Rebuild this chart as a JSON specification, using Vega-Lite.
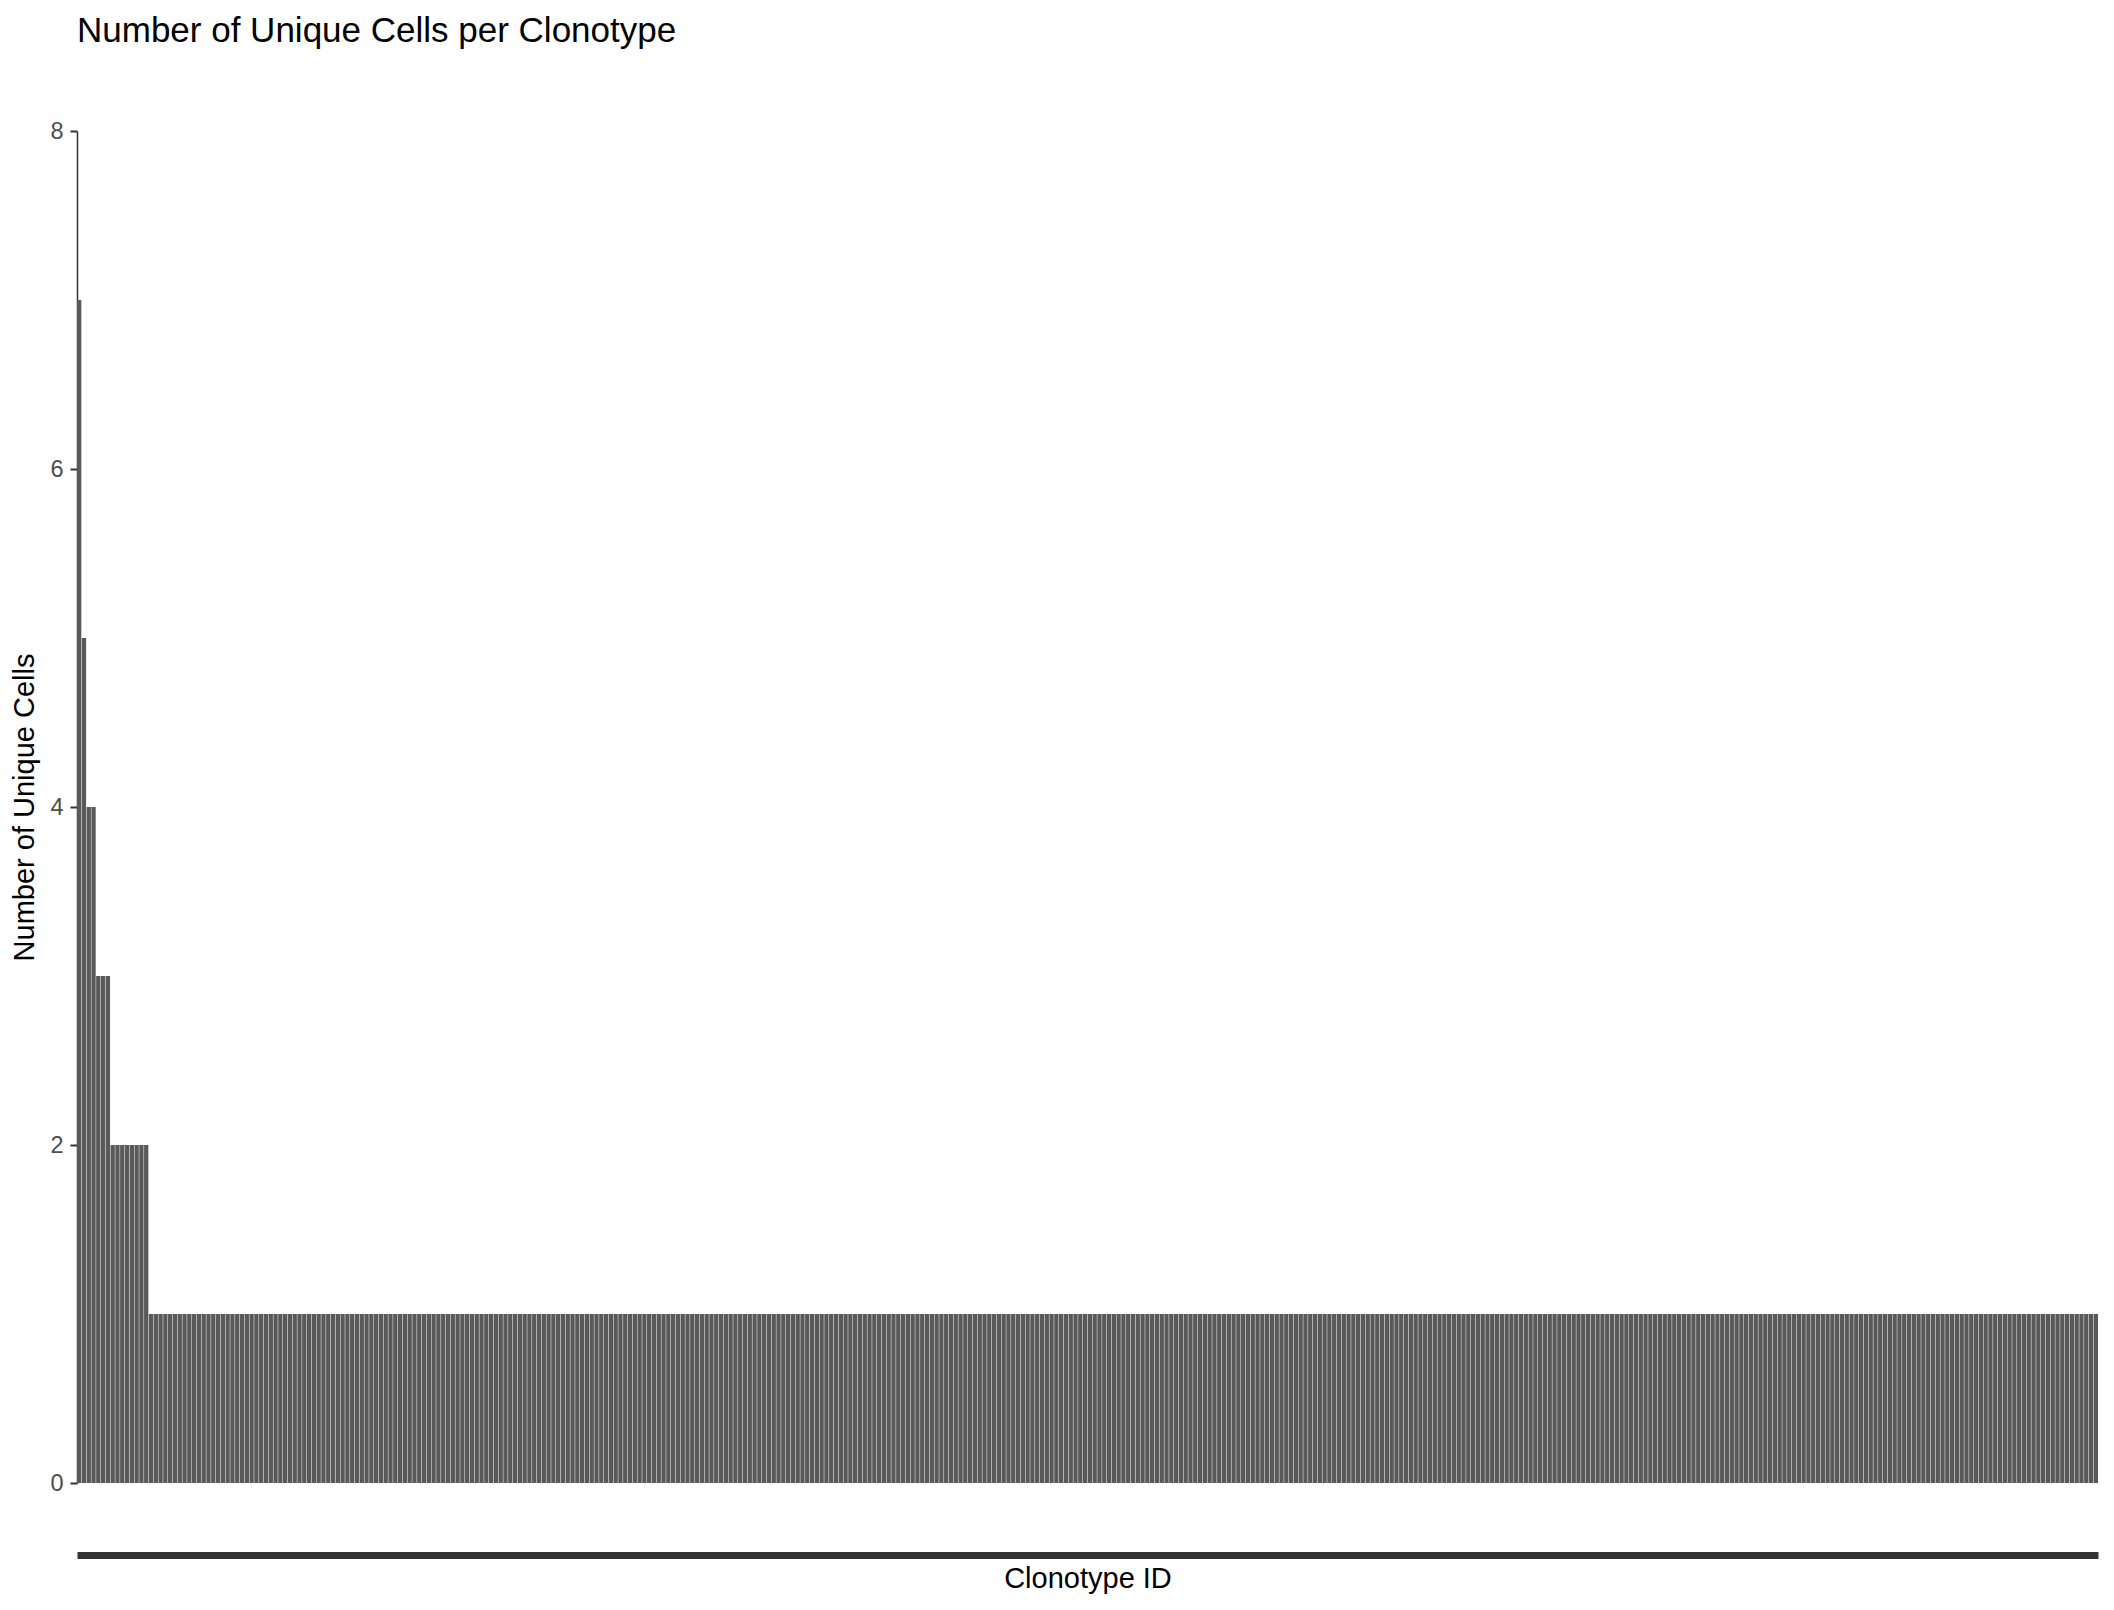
{
"$schema": "https://vega.github.io/schema/vega-lite/v6.json",
"width": 2021, "height": 1352,
"autosize": {"type": "none"},
"padding": {"left": 77, "top": 131, "right": 16, "bottom": 127},
"background": "white",
"title": {"text": "Number of Unique Cells per Clonotype", "anchor": "start", "frame": "group", "fontSize": 35, "font": "Liberation Sans", "fontWeight": "normal", "color": "black", "baseline": "alphabetic", "offset": 42},
"data": {"values": [
{"id":"c1","n":7},{"id":"c2","n":5},{"id":"c3","n":4},{"id":"c4","n":4},{"id":"c5","n":3},{"id":"c6","n":3},{"id":"c7","n":3},{"id":"c8","n":2},{"id":"c9","n":2},{"id":"c10","n":2},
{"id":"c11","n":2},{"id":"c12","n":2},{"id":"c13","n":2},{"id":"c14","n":2},{"id":"c15","n":2},{"id":"c16","n":1},{"id":"c17","n":1},{"id":"c18","n":1},{"id":"c19","n":1},{"id":"c20","n":1},
{"id":"c21","n":1},{"id":"c22","n":1},{"id":"c23","n":1},{"id":"c24","n":1},{"id":"c25","n":1},{"id":"c26","n":1},{"id":"c27","n":1},{"id":"c28","n":1},{"id":"c29","n":1},{"id":"c30","n":1},
{"id":"c31","n":1},{"id":"c32","n":1},{"id":"c33","n":1},{"id":"c34","n":1},{"id":"c35","n":1},{"id":"c36","n":1},{"id":"c37","n":1},{"id":"c38","n":1},{"id":"c39","n":1},{"id":"c40","n":1},
{"id":"c41","n":1},{"id":"c42","n":1},{"id":"c43","n":1},{"id":"c44","n":1},{"id":"c45","n":1},{"id":"c46","n":1},{"id":"c47","n":1},{"id":"c48","n":1},{"id":"c49","n":1},{"id":"c50","n":1},
{"id":"c51","n":1},{"id":"c52","n":1},{"id":"c53","n":1},{"id":"c54","n":1},{"id":"c55","n":1},{"id":"c56","n":1},{"id":"c57","n":1},{"id":"c58","n":1},{"id":"c59","n":1},{"id":"c60","n":1},
{"id":"c61","n":1},{"id":"c62","n":1},{"id":"c63","n":1},{"id":"c64","n":1},{"id":"c65","n":1},{"id":"c66","n":1},{"id":"c67","n":1},{"id":"c68","n":1},{"id":"c69","n":1},{"id":"c70","n":1},
{"id":"c71","n":1},{"id":"c72","n":1},{"id":"c73","n":1},{"id":"c74","n":1},{"id":"c75","n":1},{"id":"c76","n":1},{"id":"c77","n":1},{"id":"c78","n":1},{"id":"c79","n":1},{"id":"c80","n":1},
{"id":"c81","n":1},{"id":"c82","n":1},{"id":"c83","n":1},{"id":"c84","n":1},{"id":"c85","n":1},{"id":"c86","n":1},{"id":"c87","n":1},{"id":"c88","n":1},{"id":"c89","n":1},{"id":"c90","n":1},
{"id":"c91","n":1},{"id":"c92","n":1},{"id":"c93","n":1},{"id":"c94","n":1},{"id":"c95","n":1},{"id":"c96","n":1},{"id":"c97","n":1},{"id":"c98","n":1},{"id":"c99","n":1},{"id":"c100","n":1},
{"id":"c101","n":1},{"id":"c102","n":1},{"id":"c103","n":1},{"id":"c104","n":1},{"id":"c105","n":1},{"id":"c106","n":1},{"id":"c107","n":1},{"id":"c108","n":1},{"id":"c109","n":1},{"id":"c110","n":1},
{"id":"c111","n":1},{"id":"c112","n":1},{"id":"c113","n":1},{"id":"c114","n":1},{"id":"c115","n":1},{"id":"c116","n":1},{"id":"c117","n":1},{"id":"c118","n":1},{"id":"c119","n":1},{"id":"c120","n":1},
{"id":"c121","n":1},{"id":"c122","n":1},{"id":"c123","n":1},{"id":"c124","n":1},{"id":"c125","n":1},{"id":"c126","n":1},{"id":"c127","n":1},{"id":"c128","n":1},{"id":"c129","n":1},{"id":"c130","n":1},
{"id":"c131","n":1},{"id":"c132","n":1},{"id":"c133","n":1},{"id":"c134","n":1},{"id":"c135","n":1},{"id":"c136","n":1},{"id":"c137","n":1},{"id":"c138","n":1},{"id":"c139","n":1},{"id":"c140","n":1},
{"id":"c141","n":1},{"id":"c142","n":1},{"id":"c143","n":1},{"id":"c144","n":1},{"id":"c145","n":1},{"id":"c146","n":1},{"id":"c147","n":1},{"id":"c148","n":1},{"id":"c149","n":1},{"id":"c150","n":1},
{"id":"c151","n":1},{"id":"c152","n":1},{"id":"c153","n":1},{"id":"c154","n":1},{"id":"c155","n":1},{"id":"c156","n":1},{"id":"c157","n":1},{"id":"c158","n":1},{"id":"c159","n":1},{"id":"c160","n":1},
{"id":"c161","n":1},{"id":"c162","n":1},{"id":"c163","n":1},{"id":"c164","n":1},{"id":"c165","n":1},{"id":"c166","n":1},{"id":"c167","n":1},{"id":"c168","n":1},{"id":"c169","n":1},{"id":"c170","n":1},
{"id":"c171","n":1},{"id":"c172","n":1},{"id":"c173","n":1},{"id":"c174","n":1},{"id":"c175","n":1},{"id":"c176","n":1},{"id":"c177","n":1},{"id":"c178","n":1},{"id":"c179","n":1},{"id":"c180","n":1},
{"id":"c181","n":1},{"id":"c182","n":1},{"id":"c183","n":1},{"id":"c184","n":1},{"id":"c185","n":1},{"id":"c186","n":1},{"id":"c187","n":1},{"id":"c188","n":1},{"id":"c189","n":1},{"id":"c190","n":1},
{"id":"c191","n":1},{"id":"c192","n":1},{"id":"c193","n":1},{"id":"c194","n":1},{"id":"c195","n":1},{"id":"c196","n":1},{"id":"c197","n":1},{"id":"c198","n":1},{"id":"c199","n":1},{"id":"c200","n":1},
{"id":"c201","n":1},{"id":"c202","n":1},{"id":"c203","n":1},{"id":"c204","n":1},{"id":"c205","n":1},{"id":"c206","n":1},{"id":"c207","n":1},{"id":"c208","n":1},{"id":"c209","n":1},{"id":"c210","n":1},
{"id":"c211","n":1},{"id":"c212","n":1},{"id":"c213","n":1},{"id":"c214","n":1},{"id":"c215","n":1},{"id":"c216","n":1},{"id":"c217","n":1},{"id":"c218","n":1},{"id":"c219","n":1},{"id":"c220","n":1},
{"id":"c221","n":1},{"id":"c222","n":1},{"id":"c223","n":1},{"id":"c224","n":1},{"id":"c225","n":1},{"id":"c226","n":1},{"id":"c227","n":1},{"id":"c228","n":1},{"id":"c229","n":1},{"id":"c230","n":1},
{"id":"c231","n":1},{"id":"c232","n":1},{"id":"c233","n":1},{"id":"c234","n":1},{"id":"c235","n":1},{"id":"c236","n":1},{"id":"c237","n":1},{"id":"c238","n":1},{"id":"c239","n":1},{"id":"c240","n":1},
{"id":"c241","n":1},{"id":"c242","n":1},{"id":"c243","n":1},{"id":"c244","n":1},{"id":"c245","n":1},{"id":"c246","n":1},{"id":"c247","n":1},{"id":"c248","n":1},{"id":"c249","n":1},{"id":"c250","n":1},
{"id":"c251","n":1},{"id":"c252","n":1},{"id":"c253","n":1},{"id":"c254","n":1},{"id":"c255","n":1},{"id":"c256","n":1},{"id":"c257","n":1},{"id":"c258","n":1},{"id":"c259","n":1},{"id":"c260","n":1},
{"id":"c261","n":1},{"id":"c262","n":1},{"id":"c263","n":1},{"id":"c264","n":1},{"id":"c265","n":1},{"id":"c266","n":1},{"id":"c267","n":1},{"id":"c268","n":1},{"id":"c269","n":1},{"id":"c270","n":1},
{"id":"c271","n":1},{"id":"c272","n":1},{"id":"c273","n":1},{"id":"c274","n":1},{"id":"c275","n":1},{"id":"c276","n":1},{"id":"c277","n":1},{"id":"c278","n":1},{"id":"c279","n":1},{"id":"c280","n":1},
{"id":"c281","n":1},{"id":"c282","n":1},{"id":"c283","n":1},{"id":"c284","n":1},{"id":"c285","n":1},{"id":"c286","n":1},{"id":"c287","n":1},{"id":"c288","n":1},{"id":"c289","n":1},{"id":"c290","n":1},
{"id":"c291","n":1},{"id":"c292","n":1},{"id":"c293","n":1},{"id":"c294","n":1},{"id":"c295","n":1},{"id":"c296","n":1},{"id":"c297","n":1},{"id":"c298","n":1},{"id":"c299","n":1},{"id":"c300","n":1},
{"id":"c301","n":1},{"id":"c302","n":1},{"id":"c303","n":1},{"id":"c304","n":1},{"id":"c305","n":1},{"id":"c306","n":1},{"id":"c307","n":1},{"id":"c308","n":1},{"id":"c309","n":1},{"id":"c310","n":1},
{"id":"c311","n":1},{"id":"c312","n":1},{"id":"c313","n":1},{"id":"c314","n":1},{"id":"c315","n":1},{"id":"c316","n":1},{"id":"c317","n":1},{"id":"c318","n":1},{"id":"c319","n":1},{"id":"c320","n":1},
{"id":"c321","n":1},{"id":"c322","n":1},{"id":"c323","n":1},{"id":"c324","n":1},{"id":"c325","n":1},{"id":"c326","n":1},{"id":"c327","n":1},{"id":"c328","n":1},{"id":"c329","n":1},{"id":"c330","n":1},
{"id":"c331","n":1},{"id":"c332","n":1},{"id":"c333","n":1},{"id":"c334","n":1},{"id":"c335","n":1},{"id":"c336","n":1},{"id":"c337","n":1},{"id":"c338","n":1},{"id":"c339","n":1},{"id":"c340","n":1},
{"id":"c341","n":1},{"id":"c342","n":1},{"id":"c343","n":1},{"id":"c344","n":1},{"id":"c345","n":1},{"id":"c346","n":1},{"id":"c347","n":1},{"id":"c348","n":1},{"id":"c349","n":1},{"id":"c350","n":1},
{"id":"c351","n":1},{"id":"c352","n":1},{"id":"c353","n":1},{"id":"c354","n":1},{"id":"c355","n":1},{"id":"c356","n":1},{"id":"c357","n":1},{"id":"c358","n":1},{"id":"c359","n":1},{"id":"c360","n":1},
{"id":"c361","n":1},{"id":"c362","n":1},{"id":"c363","n":1},{"id":"c364","n":1},{"id":"c365","n":1},{"id":"c366","n":1},{"id":"c367","n":1},{"id":"c368","n":1},{"id":"c369","n":1},{"id":"c370","n":1},
{"id":"c371","n":1},{"id":"c372","n":1},{"id":"c373","n":1},{"id":"c374","n":1},{"id":"c375","n":1},{"id":"c376","n":1},{"id":"c377","n":1},{"id":"c378","n":1},{"id":"c379","n":1},{"id":"c380","n":1},
{"id":"c381","n":1},{"id":"c382","n":1},{"id":"c383","n":1},{"id":"c384","n":1},{"id":"c385","n":1},{"id":"c386","n":1},{"id":"c387","n":1},{"id":"c388","n":1},{"id":"c389","n":1},{"id":"c390","n":1},
{"id":"c391","n":1},{"id":"c392","n":1},{"id":"c393","n":1},{"id":"c394","n":1},{"id":"c395","n":1},{"id":"c396","n":1},{"id":"c397","n":1},{"id":"c398","n":1},{"id":"c399","n":1},{"id":"c400","n":1},
{"id":"c401","n":1},{"id":"c402","n":1},{"id":"c403","n":1},{"id":"c404","n":1},{"id":"c405","n":1},{"id":"c406","n":1},{"id":"c407","n":1},{"id":"c408","n":1},{"id":"c409","n":1},{"id":"c410","n":1},
{"id":"c411","n":1},{"id":"c412","n":1},{"id":"c413","n":1},{"id":"c414","n":1},{"id":"c415","n":1},{"id":"c416","n":1},{"id":"c417","n":1},{"id":"c418","n":1},{"id":"c419","n":1},{"id":"c420","n":1},
{"id":"c421","n":1},{"id":"c422","n":1}
]},
"mark": {"type": "bar", "color": "#595959"},
"encoding": {
  "x": {"field": "id", "type": "nominal", "sort": null,
        "scale": {"paddingInner": 0.1, "paddingOuter": 0},
        "axis": {"title": "Clonotype ID", "labels": false, "ticks": false, "domain": true, "domainWidth": 7, "domainColor": "#333333", "offset": 72,
                 "titleFontSize": 29, "titleFont": "Liberation Sans", "titleFontWeight": "normal", "titleColor": "black", "titleBaseline": "alphabetic", "titleY": 32}},
  "y": {"field": "n", "type": "quantitative",
        "scale": {"domain": [0, 8], "nice": false, "zero": true},
        "axis": {"title": "Number of Unique Cells", "values": [0, 2, 4, 6, 8], "grid": false,
                 "domainColor": "#333333", "domainWidth": 1.5, "tickColor": "#333333", "tickWidth": 2, "tickSize": 7,
                 "labelPadding": 7, "labelFontSize": 23.5, "labelColor": "#4d4d4d", "labelFont": "Liberation Sans",
                 "titleFontSize": 29, "titleFont": "Liberation Sans", "titleFontWeight": "normal", "titleColor": "black",
                 "titleX": -53, "titleY": 676, "titleAngle": -90, "titleAlign": "center", "titleBaseline": "middle"}}
},
"config": {"view": {"stroke": null}}
}
